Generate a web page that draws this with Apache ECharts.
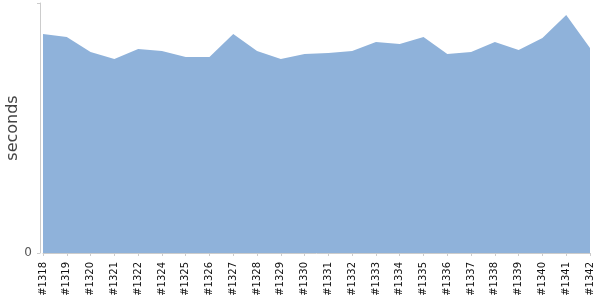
<!DOCTYPE html>
<html>
<head>
<meta charset="utf-8">
<script src="https://cdn.jsdelivr.net/npm/echarts@6/dist/echarts.min.js"></script>
<style>
  html, body { margin: 0; padding: 0; background: #fff; }
  #chart { width: 600px; height: 300px; }
</style>
</head>
<body>
<div id="chart"></div>
<script>
const builds = [
  "#1318", "#1319", "#1320", "#1321", "#1322", "#1324", "#1325", "#1326",
  "#1327", "#1328", "#1329", "#1330", "#1331", "#1332", "#1333", "#1334",
  "#1335", "#1336", "#1337", "#1338", "#1339", "#1340", "#1341", "#1342"
];
const durations = [
  219, 216, 201, 194, 204, 202, 196, 196,
  219, 202, 194, 199, 200, 202, 211, 209,
  216, 199, 201, 211, 203, 215, 238, 205
];

const chart = echarts.init(document.getElementById("chart"));
chart.setOption({
  backgroundColor: "#ffffff",
  animation: false,
  grid: {
    left: 43,
    right: 10,
    top: 3,
    bottom: 47,
    containLabel: false,
    outerBoundsMode: "none"
  },
  xAxis: {
    type: "category",
    data: builds,
    boundaryGap: false,
    offset: 4,
    axisLine: { lineStyle: { color: "#cccccc" } },
    axisTick: { alignWithLabel: true, length: 3, lineStyle: { color: "#cccccc" } },
    axisLabel: {
      rotate: 90,
      interval: 0,
      margin: 5,
      fontSize: 10,
      fontFamily: "DejaVu Sans",
      color: "#111111"
    }
  },
  yAxis: {
    type: "value",
    min: 0,
    max: 250,
    interval: 250,
    offset: 3,
    name: "seconds",
    nameLocation: "middle",
    nameGap: 19,
    nameMoveOverlap: false,
    nameTextStyle: { fontSize: 16, fontFamily: "DejaVu Sans", color: "#444444" },
    axisLine: { show: true, lineStyle: { color: "#cccccc" } },
    axisTick: { show: true, length: 3, lineStyle: { color: "#cccccc" } },
    splitLine: { show: false },
    axisLabel: {
      margin: 8,
      fontSize: 12,
      fontFamily: "DejaVu Sans",
      color: "#555555",
      formatter: function (v) { return v === 0 ? "0" : ""; }
    }
  },
  series: [{
    type: "line",
    data: durations,
    symbol: "none",
    lineStyle: { width: 0 },
    areaStyle: { color: "#8fb2da", opacity: 1 }
  }]
});
</script>
</body>
</html>
